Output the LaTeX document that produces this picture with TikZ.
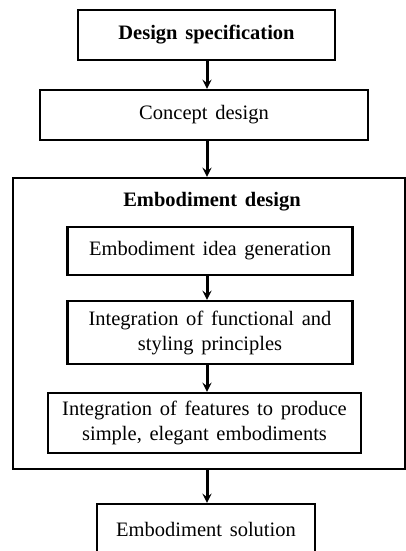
\documentclass[tikz,border=0pt]{standalone}
\usepackage{fontspec}
\setmainfont{Liberation Serif}[WordSpace=1.5]
\tikzset{>=stealth}
\tikzset{
  stagebox/.style={draw, line width=2.2pt, align=center, inner sep=0pt,
    font=\fontsize{20.5}{25}\selectfont},
  boldtext/.style={font=\fontsize{20.5}{25}\selectfont\bfseries},
  flow/.style={->, line width=3pt},
}

\begin{document}
\begin{tikzpicture}[x=1pt,y=-1pt]
    \useasboundingbox (0,0) rectangle (406,551);
    \coordinate (axis) at (207,0);
    % stages
    \node[stagebox, boldtext, minimum width=257pt, minimum height=50pt] (spec) at (206.5,35) {Design specification};
    \node[stagebox, minimum width=328pt, minimum height=50pt] (concept) at (204,115) {Concept design};
    \node[stagebox, minimum width=392pt, minimum height=291pt] (embod) at (209,323.5) {};
    \node[boldtext] (embodtitle) at (212,202) {Embodiment design};
    \node[stagebox, minimum width=285pt, minimum height=48pt] (idea) at (210,251) {Embodiment idea generation};
    \node[stagebox, minimum width=285pt, minimum height=63pt] (styling) at (210,332.5) {Integration of functional and\\styling principles};
    \node[stagebox, minimum width=313pt, minimum height=60pt] (features) at (204.5,423) {Integration of features to produce\\simple, elegant embodiments};
    \node[stagebox, minimum width=218pt, minimum height=50pt] (solution) at (206,529) {Embodiment solution};
    % arrows
    \draw[flow] (spec.south -| axis) -- (concept.north -| axis);
    \draw[flow] (concept.south -| axis) -- (embod.north -| axis);
    \draw[flow] (idea.south -| axis) -- (styling.north -| axis);
    \draw[flow] (styling.south -| axis) -- (features.north -| axis);
    \draw[flow] (embod.south -| axis) -- (solution.north -| axis);
\end{tikzpicture}
\end{document}
